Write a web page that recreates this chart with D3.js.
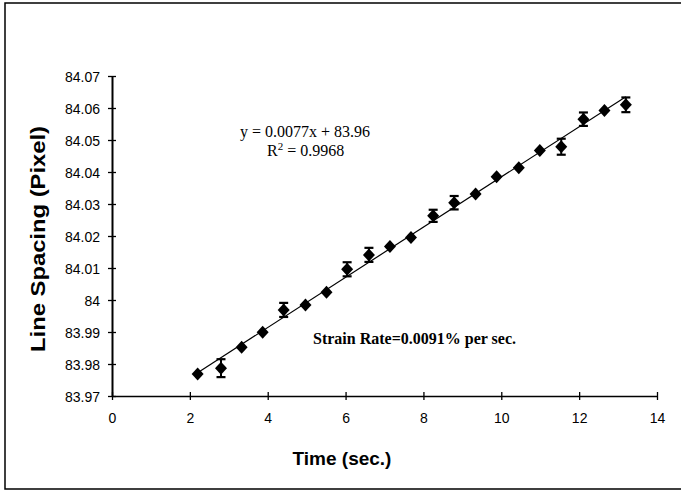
<!DOCTYPE html>
<html>
<head>
<meta charset="utf-8">
<script src="https://cdn.jsdelivr.net/npm/d3@7"></script>
<style>
  html, body { margin: 0; padding: 0; background: #fff; }
  svg { display: block; }
</style>
</head>
<body>
<svg id="chart" width="681" height="491"></svg>
<script>
// ---- data ----
const times = [2.2, 2.8, 3.33, 3.87, 4.41, 4.97, 5.51, 6.04, 6.6, 7.14, 7.68, 8.25, 8.79, 9.34, 9.88, 10.45, 10.99, 11.54, 12.11, 12.65, 13.2];
const spacing = [83.9769, 83.9787, 83.9852, 83.9899, 83.9969, 83.9984, 84.0024, 84.0096, 84.0141, 84.0167, 84.0195, 84.0263, 84.0304, 84.0331, 84.0385, 84.0413, 84.0467, 84.0479, 84.0565, 84.0592, 84.061];
const errors = [0, 0.0028, 0, 0, 0.0022, 0, 0, 0.0022, 0.0022, 0, 0, 0.0019, 0.0021, 0, 0, 0, 0, 0.0025, 0.0021, 0, 0.0023];
const xTicks = [0, 2, 4, 6, 8, 10, 12, 14];
const yTicks = [83.97, 83.98, 83.99, 84, 84.01, 84.02, 84.03, 84.04, 84.05, 84.06, 84.07];
const yTickLabels = ["83.97", "83.98", "83.99", "84", "84.01", "84.02", "84.03", "84.04", "84.05", "84.06", "84.07"];
const equationText = "y = 0.0077x + 83.96";
const r2Value = "0.9968";
const strainText = "Strain Rate=0.0091% per sec.";
const xTitle = "Time (sec.)";
const yTitle = "Line Spacing (Pixel)";

// ---- drawing ----
const svg = d3.select("#chart");
const x = d3.scaleLinear().domain([0, 14]).range([112, 657]);
const y = d3.scaleLinear().domain([83.97, 84.07]).range([396, 76]);

// frame
svg.append("path")
  .attr("d", "M 720 3 L 5 3 L 5 489 L 720 489")
  .attr("fill", "none").attr("stroke", "#000").attr("stroke-width", 1.5);

// axes
const xAxis = d3.axisBottom(x).tickValues(xTicks).tickSize(0).tickPadding(0).tickFormat("");
const gx = svg.append("g").attr("transform", `translate(0,${y(83.97)})`).call(xAxis);
gx.select(".domain").attr("stroke", "#000").attr("stroke-width", 1.6);
gx.selectAll(".tick").append("line").attr("y1", -4).attr("y2", 4).attr("stroke", "#000").attr("stroke-width", 1.3);
gx.selectAll(".tick").append("text")
  .attr("y", 27).attr("fill", "#000").attr("text-anchor", "middle")
  .style("font-family", "'Liberation Sans', Arial, sans-serif").style("font-size", "14px")
  .text(d => d);

const yAxis = d3.axisLeft(y).tickValues(yTicks).tickSize(0).tickPadding(0).tickFormat("");
const gy = svg.append("g").attr("transform", `translate(${x(0)},0)`).call(yAxis);
gy.select(".domain").attr("stroke", "#000").attr("stroke-width", 2);
gy.selectAll(".tick").append("line").attr("x1", -4).attr("x2", 4).attr("stroke", "#000").attr("stroke-width", 1.3);
gy.selectAll(".tick").append("text")
  .attr("x", -12).attr("dy", "0.36em").attr("fill", "#000").attr("text-anchor", "end")
  .style("font-family", "'Liberation Sans', Arial, sans-serif").style("font-size", "14px")
  .text((d, i) => yTickLabels[i]);

// axis titles
svg.append("text")
  .attr("x", 342).attr("y", 465).attr("text-anchor", "middle")
  .style("font-family", "'Liberation Sans', Arial, sans-serif").style("font-size", "19px").style("font-weight", "bold")
  .text(xTitle);
svg.append("text")
  .attr("transform", `translate(45,239) rotate(-90)`).attr("text-anchor", "middle")
  .attr("textLength", 226).attr("lengthAdjust", "spacingAndGlyphs")
  .style("font-family", "'Liberation Sans', Arial, sans-serif").style("font-size", "20px").style("font-weight", "bold")
  .text(yTitle);

// linear trend line (least-squares fit of the data, as the spreadsheet does)
const mx = d3.mean(times), my = d3.mean(spacing);
const slope = d3.sum(times, (t, i) => (t - mx) * (spacing[i] - my)) / d3.sum(times, t => (t - mx) * (t - mx));
const intercept = my - slope * mx;
const [tMin, tMax] = d3.extent(times);
svg.append("line")
  .attr("x1", x(tMin)).attr("y1", y(slope * tMin + intercept))
  .attr("x2", x(tMax)).attr("y2", y(slope * tMax + intercept))
  .attr("stroke", "#000").attr("stroke-width", 1.2);

const pts = times.map((t, i) => ({ t, v: spacing[i], e: errors[i] }));

// error bars
const eb = svg.append("g").selectAll("g").data(pts.filter(d => d.e > 0)).join("g");
eb.append("line")
  .attr("x1", d => x(d.t)).attr("x2", d => x(d.t))
  .attr("y1", d => y(d.v - d.e)).attr("y2", d => y(d.v + d.e))
  .attr("stroke", "#000").attr("stroke-width", 2);
[-1, 1].forEach(s => {
  eb.append("line")
    .attr("x1", d => x(d.t) - 4.5).attr("x2", d => x(d.t) + 4.5)
    .attr("y1", d => y(d.v + s * d.e)).attr("y2", d => y(d.v + s * d.e))
    .attr("stroke", "#000").attr("stroke-width", 2.2);
});

// diamonds
svg.append("g").selectAll("path").data(pts).join("path")
  .attr("d", d => {
    const cx = x(d.t), cy = y(d.v), w = 6, h = 6.5;
    return `M${cx},${cy - h}L${cx + w},${cy}L${cx},${cy + h}L${cx - w},${cy}Z`;
  })
  .attr("fill", "#000");

// annotations
svg.append("text")
  .attr("x", 240).attr("y", 137)
  .style("font-family", "'Liberation Serif', 'Times New Roman', serif").style("font-size", "16px")
  .text(equationText);
const r2 = svg.append("text")
  .attr("x", 267).attr("y", 156)
  .style("font-family", "'Liberation Serif', 'Times New Roman', serif").style("font-size", "16px");
r2.append("tspan").text("R");
r2.append("tspan").attr("dy", -6).style("font-size", "11px").text("2");
r2.append("tspan").attr("dy", 6).text(" = " + r2Value);

svg.append("text")
  .attr("x", 313).attr("y", 344)
  .style("font-family", "'Liberation Serif', 'Times New Roman', serif").style("font-size", "16px").style("font-weight", "bold")
  .text(strainText);
</script>
</body>
</html>
